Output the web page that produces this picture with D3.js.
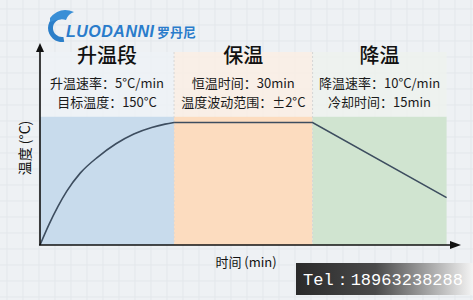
<!DOCTYPE html>
<html>
<head>
<meta charset="utf-8">
<script src="https://cdn.jsdelivr.net/npm/d3@7"></script>
<style>
  body { margin: 0; background: #eef1f4; }
  svg { display: block; font-family: "Noto Sans CJK SC", "Noto Sans", sans-serif; }
</style>
</head>
<body>
<div class="chart"></div>
<script>
// stage data
const stageNames = ["升温段", "保温", "降温"];
const stageStart = [0, 30, 61];
const stageEnd = [30, 61, 91];
const stageLine1 = ["升温速率：5°C/min", "恒温时间：30min", "降温速率：10°C/min"];
const stageLine2 = ["目标温度：150°C", "温度波动范围：±2°C", "冷却时间：15min"];
const stageColors = ["#c8dbec", "#fcdcbf", "#d0e4d0"];
const headColors = ["#eef2f6", "#fbefe4", "#eef3ee"];

// heating curve (time min, temp °C)
const riseTime = [0, 2, 4, 6, 9, 13, 17, 21, 25, 28, 30];
const riseTemp = [0, 25, 47, 66, 88, 108, 124, 136, 144, 148, 150];
// hold + cooling
const holdTime = [30, 61, 91];
const holdTemp = [150, 150, 58];

const width = 473, height = 300;
const margin = {top: 44, left: 40, right: 13, bottom: 55};

const svg = d3.select('.chart')
  .append('svg')
  .attr('width', width)
  .attr('height', height);

const defs = svg.append("defs");
const telGrad = defs.append("linearGradient").attr("id", "tel").attr("x1", 0).attr("y1", 0).attr("x2", 1).attr("y2", 0);
telGrad.append("stop").attr("offset", "0%").attr("stop-color", "#2a2a2a");
telGrad.append("stop").attr("offset", "45%").attr("stop-color", "#4a4a4a");
telGrad.append("stop").attr("offset", "80%").attr("stop-color", "#b5b5b5");
telGrad.append("stop").attr("offset", "100%").attr("stop-color", "#f4f4f4");

svg.append("rect").attr("width", width).attr("height", height).attr("fill", "#eef1f4");

// faint grid in background
const grid = svg.append("g").attr("stroke", "#e3e7eb").attr("stroke-width", 1);
d3.range(7, width, 16).forEach(x => grid.append("line").attr("x1", x).attr("x2", x).attr("y1", 0).attr("y2", height));
d3.range(9, height, 16).forEach(y => grid.append("line").attr("x1", 0).attr("x2", width).attr("y1", y).attr("y2", y));

const xScale = d3.scaleLinear()
  .domain([0, 94])
  .range([margin.left, width - margin.right]);

const yScale = d3.scaleLinear()
  .domain([0, 150])
  .range([height - margin.bottom, 122.5]);

const panelTop = yScale(157);
const headTop = 52;

// header tint
svg.selectAll(".head")
  .data(stageNames)
  .enter()
  .append("rect")
  .attr("x", (d, i) => xScale(stageStart[i]))
  .attr("y", headTop)
  .attr("width", (d, i) => xScale(stageEnd[i]) - xScale(stageStart[i]))
  .attr("height", panelTop - headTop)
  .attr("fill", (d, i) => headColors[i])
  .attr("opacity", 0.8);

// stage panels
svg.selectAll(".panel")
  .data(stageNames)
  .enter()
  .append("rect")
  .attr("x", (d, i) => xScale(stageStart[i]))
  .attr("y", panelTop)
  .attr("width", (d, i) => xScale(stageEnd[i]) - xScale(stageStart[i]))
  .attr("height", yScale(0) - panelTop)
  .attr("fill", (d, i) => stageColors[i]);

// dashed dividers
svg.selectAll(".divider")
  .data(stageStart.slice(1))
  .enter()
  .append("line")
  .attr("x1", d => xScale(d)).attr("x2", d => xScale(d))
  .attr("y1", headTop).attr("y2", yScale(0))
  .attr("stroke", "#d6d6d6")
  .attr("stroke-dasharray", "2,2");

// stage titles
svg.selectAll(".title")
  .data(stageNames)
  .enter()
  .append("text")
  .attr("x", (d, i) => (xScale(stageStart[i]) + xScale(stageEnd[i])) / 2)
  .attr("y", 63)
  .attr("text-anchor", "middle")
  .attr("font-size", 20)
  .attr("font-weight", 500)
  .attr("fill", "#111")
  .text(d => d);

svg.selectAll(".line1")
  .data(stageLine1)
  .enter()
  .append("text")
  .attr("x", (d, i) => (xScale(stageStart[i]) + xScale(stageEnd[i])) / 2)
  .attr("y", 88)
  .attr("text-anchor", "middle")
  .attr("font-size", 13)
  .attr("fill", "#1a1a1a")
  .text(d => d);

svg.selectAll(".line2")
  .data(stageLine2)
  .enter()
  .append("text")
  .attr("x", (d, i) => (xScale(stageStart[i]) + xScale(stageEnd[i])) / 2)
  .attr("y", 107)
  .attr("text-anchor", "middle")
  .attr("font-size", 13)
  .attr("fill", "#1a1a1a")
  .text(d => d);

// temperature curve
const riseLine = d3.line()
  .x(d => xScale(d[0]))
  .y(d => yScale(d[1]))
  .curve(d3.curveMonotoneX);
const holdLine = d3.line()
  .x(d => xScale(d[0]))
  .y(d => yScale(d[1]));

svg.append("path")
  .datum(riseTime.map((t, i) => [t, riseTemp[i]]))
  .attr("d", riseLine)
  .attr("fill", "none")
  .attr("stroke", "#3d4d5f")
  .attr("stroke-width", 1.6);
svg.append("path")
  .datum(holdTime.map((t, i) => [t, holdTemp[i]]))
  .attr("d", holdLine)
  .attr("fill", "none")
  .attr("stroke", "#3d4d5f")
  .attr("stroke-width", 1.6);

// axes with arrows
const x0 = xScale(0), y0 = yScale(0);
svg.append("line")
  .attr("x1", x0).attr("y1", y0).attr("x2", x0).attr("y2", 50)
  .attr("stroke", "#111").attr("stroke-width", 1.6);
svg.append("path")
  .attr("d", `M${x0},43 L${x0 - 4},52 L${x0 + 4},52 Z`)
  .attr("fill", "#111");
svg.append("line")
  .attr("x1", x0 - 1).attr("y1", y0).attr("x2", 452).attr("y2", y0)
  .attr("stroke", "#111").attr("stroke-width", 1.6);
svg.append("path")
  .attr("d", `M461,${y0} L450,${y0 - 4} L450,${y0 + 4} Z`)
  .attr("fill", "#111");

svg.append("text")
  .attr("transform", `translate(26, 148) rotate(-90)`)
  .attr("text-anchor", "middle")
  .attr("dominant-baseline", "middle")
  .attr("font-size", 14)
  .attr("fill", "#111")
  .text("温度 (°C)");

svg.append("text")
  .attr("x", 246)
  .attr("y", 267)
  .attr("text-anchor", "middle")
  .attr("font-size", 13)
  .attr("fill", "#111")
  .text("时间 (min)");

// logo
const logo = svg.append("g");
logo.append("path")
  .attr("d", d3.arc()({innerRadius: 9, outerRadius: 14, startAngle: Math.PI * 0.95, endAngle: Math.PI * 2.05}))
  .attr("transform", "translate(62,28)")
  .attr("fill", "#2c7fc9");
logo.append("path")
  .attr("d", "M50,18 Q60,6 74,12 Q68,14 66,20 Q60,18 50,22 Z")
  .attr("fill", "#3a8fd6");
logo.append("text")
  .attr("x", 66).attr("y", 37)
  .attr("font-family", "Liberation Sans, sans-serif")
  .attr("font-size", 16)
  .attr("font-weight", "bold")
  .attr("font-style", "italic")
  .attr("fill", "#2a7ccb")
  .attr("textLength", 88)
  .text("LUODANNI");
logo.append("text")
  .attr("x", 157).attr("y", 37)
  .attr("font-size", 13)
  .attr("font-weight", "bold")
  .attr("fill", "#2a7ccb")
  .text("罗丹尼");

// tel box
svg.append("rect")
  .attr("x", 296).attr("y", 263)
  .attr("width", 177).attr("height", 32)
  .attr("fill", "url(#tel)");
svg.append("text")
  .attr("x", 303).attr("y", 285)
  .attr("font-family", "Liberation Mono, monospace")
  .attr("font-size", 17)
  .attr("fill", "#fff")
  .attr("textLength", 160)
  .text("Tel：18963238288");
</script>
</body>
</html>
